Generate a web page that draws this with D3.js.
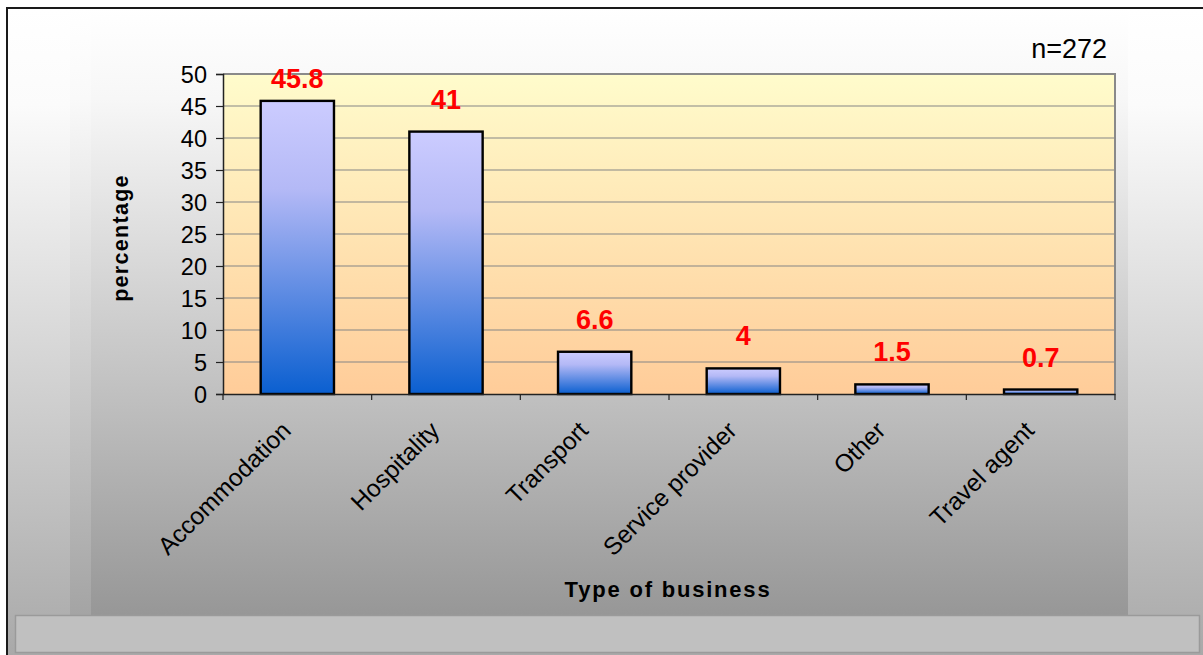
<!DOCTYPE html>
<html>
<head>
<meta charset="utf-8">
<script src="https://cdn.jsdelivr.net/npm/d3@7"></script>
<style>
  html, body { margin: 0; padding: 0; background: #ffffff; }
  svg { display: block; font-family: Arial, "Liberation Sans", sans-serif; }
</style>
</head>
<body>
<svg id="chart" width="1203" height="655"></svg>
<script>
// Business types and share of respondents (%)
const categories = ["Accommodation", "Hospitality", "Transport", "Service provider", "Other", "Travel agent"];
const percentages = [45.8, 41, 6.6, 4, 1.5, 0.7];
const yTicks = [0, 5, 10, 15, 20, 25, 30, 35, 40, 45, 50];
const sampleNote = "n=272";

const svg = d3.select("#chart");
const W = 1203, H = 655;
const plot = { left: 223, right: 1115, top: 74, bottom: 394 };

const defs = svg.append("defs");
function vGrad(id, stops) {
  const g = defs.append("linearGradient").attr("id", id)
    .attr("x1", 0).attr("y1", 0).attr("x2", 0).attr("y2", 1);
  stops.forEach(s => g.append("stop").attr("offset", s[0]).attr("stop-color", s[1]));
}
vGrad("bgOuter", [[0, "#ffffff"], [0.15, "#fbfbfb"], [1, "#a9a9a9"]]);
vGrad("bgMid", [[0, "#ffffff"], [0.15, "#f9f9f9"], [1, "#a4a4a4"]]);
vGrad("bgInner", [[0, "#ffffff"], [0.15, "#f7f7f7"], [1, "#979797"]]);
vGrad("plotFill", [[0, "#fffccc"], [1, "#ffcc99"]]);
vGrad("barFill", [[0, "#ccccff"], [0.3, "#b4b9f6"], [1, "#0a5fd0"]]);

// Chart background panels
svg.append("rect").attr("x", 7).attr("y", 8).attr("width", W - 7).attr("height", H - 8)
  .attr("fill", "url(#bgOuter)");
svg.append("rect").attr("x", 70).attr("y", 8).attr("width", 1128 - 70).attr("height", 615 - 8)
  .attr("fill", "url(#bgMid)");
svg.append("rect").attr("x", 91).attr("y", 8).attr("width", 1128 - 91).attr("height", 615 - 8)
  .attr("fill", "url(#bgInner)");
// Lower caption box
svg.append("rect").attr("x", 15.5).attr("y", 615.5).attr("width", 1184).attr("height", 37)
  .attr("fill", "#c0c0c0").attr("stroke", "#9a9a9a").attr("stroke-width", 1.5);
// Outer frame
svg.append("path")
  .attr("d", `M7,${H} V8 H${W}`)
  .attr("fill", "none").attr("stroke", "#1a1a1a").attr("stroke-width", 2);

// Scales
const x = d3.scaleBand().domain(categories).range([plot.left, plot.right])
  .paddingInner(0.507).paddingOuter(0.2535);
const y = d3.scaleLinear().domain([0, 50]).range([plot.bottom, plot.top]);

// Plot area
svg.append("rect").attr("x", plot.left).attr("y", plot.top)
  .attr("width", plot.right - plot.left).attr("height", plot.bottom - plot.top)
  .attr("fill", "url(#plotFill)");

// Horizontal gridlines
svg.append("g").selectAll("line").data(yTicks.filter(t => t > 0)).join("line")
  .attr("x1", plot.left).attr("x2", plot.right)
  .attr("y1", d => y(d)).attr("y2", d => y(d))
  .attr("stroke", "#858585").attr("stroke-width", 1.2);

// Plot border (top and right)
svg.append("path")
  .attr("d", `M${plot.left},${plot.top} H${plot.right} V${plot.bottom}`)
  .attr("fill", "none").attr("stroke", "#8a8a8a").attr("stroke-width", 2);

// Bars
svg.append("g").selectAll("rect").data(percentages).join("rect")
  .attr("x", (d, i) => x(categories[i]))
  .attr("y", d => y(d))
  .attr("width", x.bandwidth())
  .attr("height", d => y(0) - y(d))
  .attr("fill", "url(#barFill)")
  .attr("stroke", "#000").attr("stroke-width", 2.4);

// Value labels
svg.append("g").selectAll("text").data(percentages).join("text")
  .attr("x", (d, i) => x(categories[i]) + x.bandwidth() / 2)
  .attr("y", d => Math.max(y(d) - 23, y(50) + 14))
  .attr("text-anchor", "middle")
  .attr("fill", "#ff0000").attr("font-weight", "bold").attr("font-size", 27)
  .text(d => String(d));

// Y axis
const yAxis = svg.append("g").attr("transform", `translate(${plot.left},0)`)
  .call(d3.axisLeft(y).tickValues(yTicks).tickSize(7).tickPadding(9).tickFormat(d3.format("d")));
yAxis.select(".domain").attr("stroke", "#222").attr("stroke-width", 1.5);
yAxis.selectAll(".tick line").attr("stroke", "#222").attr("stroke-width", 1.2);
yAxis.selectAll(".tick text").attr("font-size", 23.5).attr("fill", "#000")
  .attr("font-family", "Arial, 'Liberation Sans', sans-serif").attr("dy", "0.36em");

// X axis line and category boundary ticks
const xAxis = svg.append("g").attr("transform", `translate(0,${plot.bottom})`)
  .call(d3.axisBottom(x).tickSize(0).tickFormat(""));
xAxis.select(".domain").attr("stroke", "#222").attr("stroke-width", 1.5);
const bounds = d3.range(categories.length + 1).map(i => plot.left + i * x.step());
xAxis.append("g").selectAll("line").data(bounds).join("line")
  .attr("x1", d => d).attr("x2", d => d).attr("y1", 0).attr("y2", 6)
  .attr("stroke", "#222").attr("stroke-width", 1.2);

// Rotated category labels
svg.append("g").selectAll("text").data(categories).join("text")
  .attr("transform", d => `translate(${x(d) + x.bandwidth() / 2 - 5},${plot.bottom + 38}) rotate(-45)`)
  .attr("text-anchor", "end")
  .attr("font-size", 24.5).attr("fill", "#000")
  .text(d => d);

// Axis titles
svg.append("text")
  .attr("transform", `translate(128,238) rotate(-90)`)
  .attr("text-anchor", "middle")
  .attr("font-weight", "bold").attr("font-size", 21.5).attr("letter-spacing", 1.3)
  .text("percentage");
svg.append("text")
  .attr("x", 668).attr("y", 597)
  .attr("text-anchor", "middle")
  .attr("font-weight", "bold").attr("font-size", 22).attr("letter-spacing", 1.8)
  .text("Type of business");

// Sample size note
svg.append("text")
  .attr("x", 1107).attr("y", 58)
  .attr("text-anchor", "end")
  .attr("font-size", 27).attr("fill", "#000")
  .text(sampleNote);
</script>
</body>
</html>
